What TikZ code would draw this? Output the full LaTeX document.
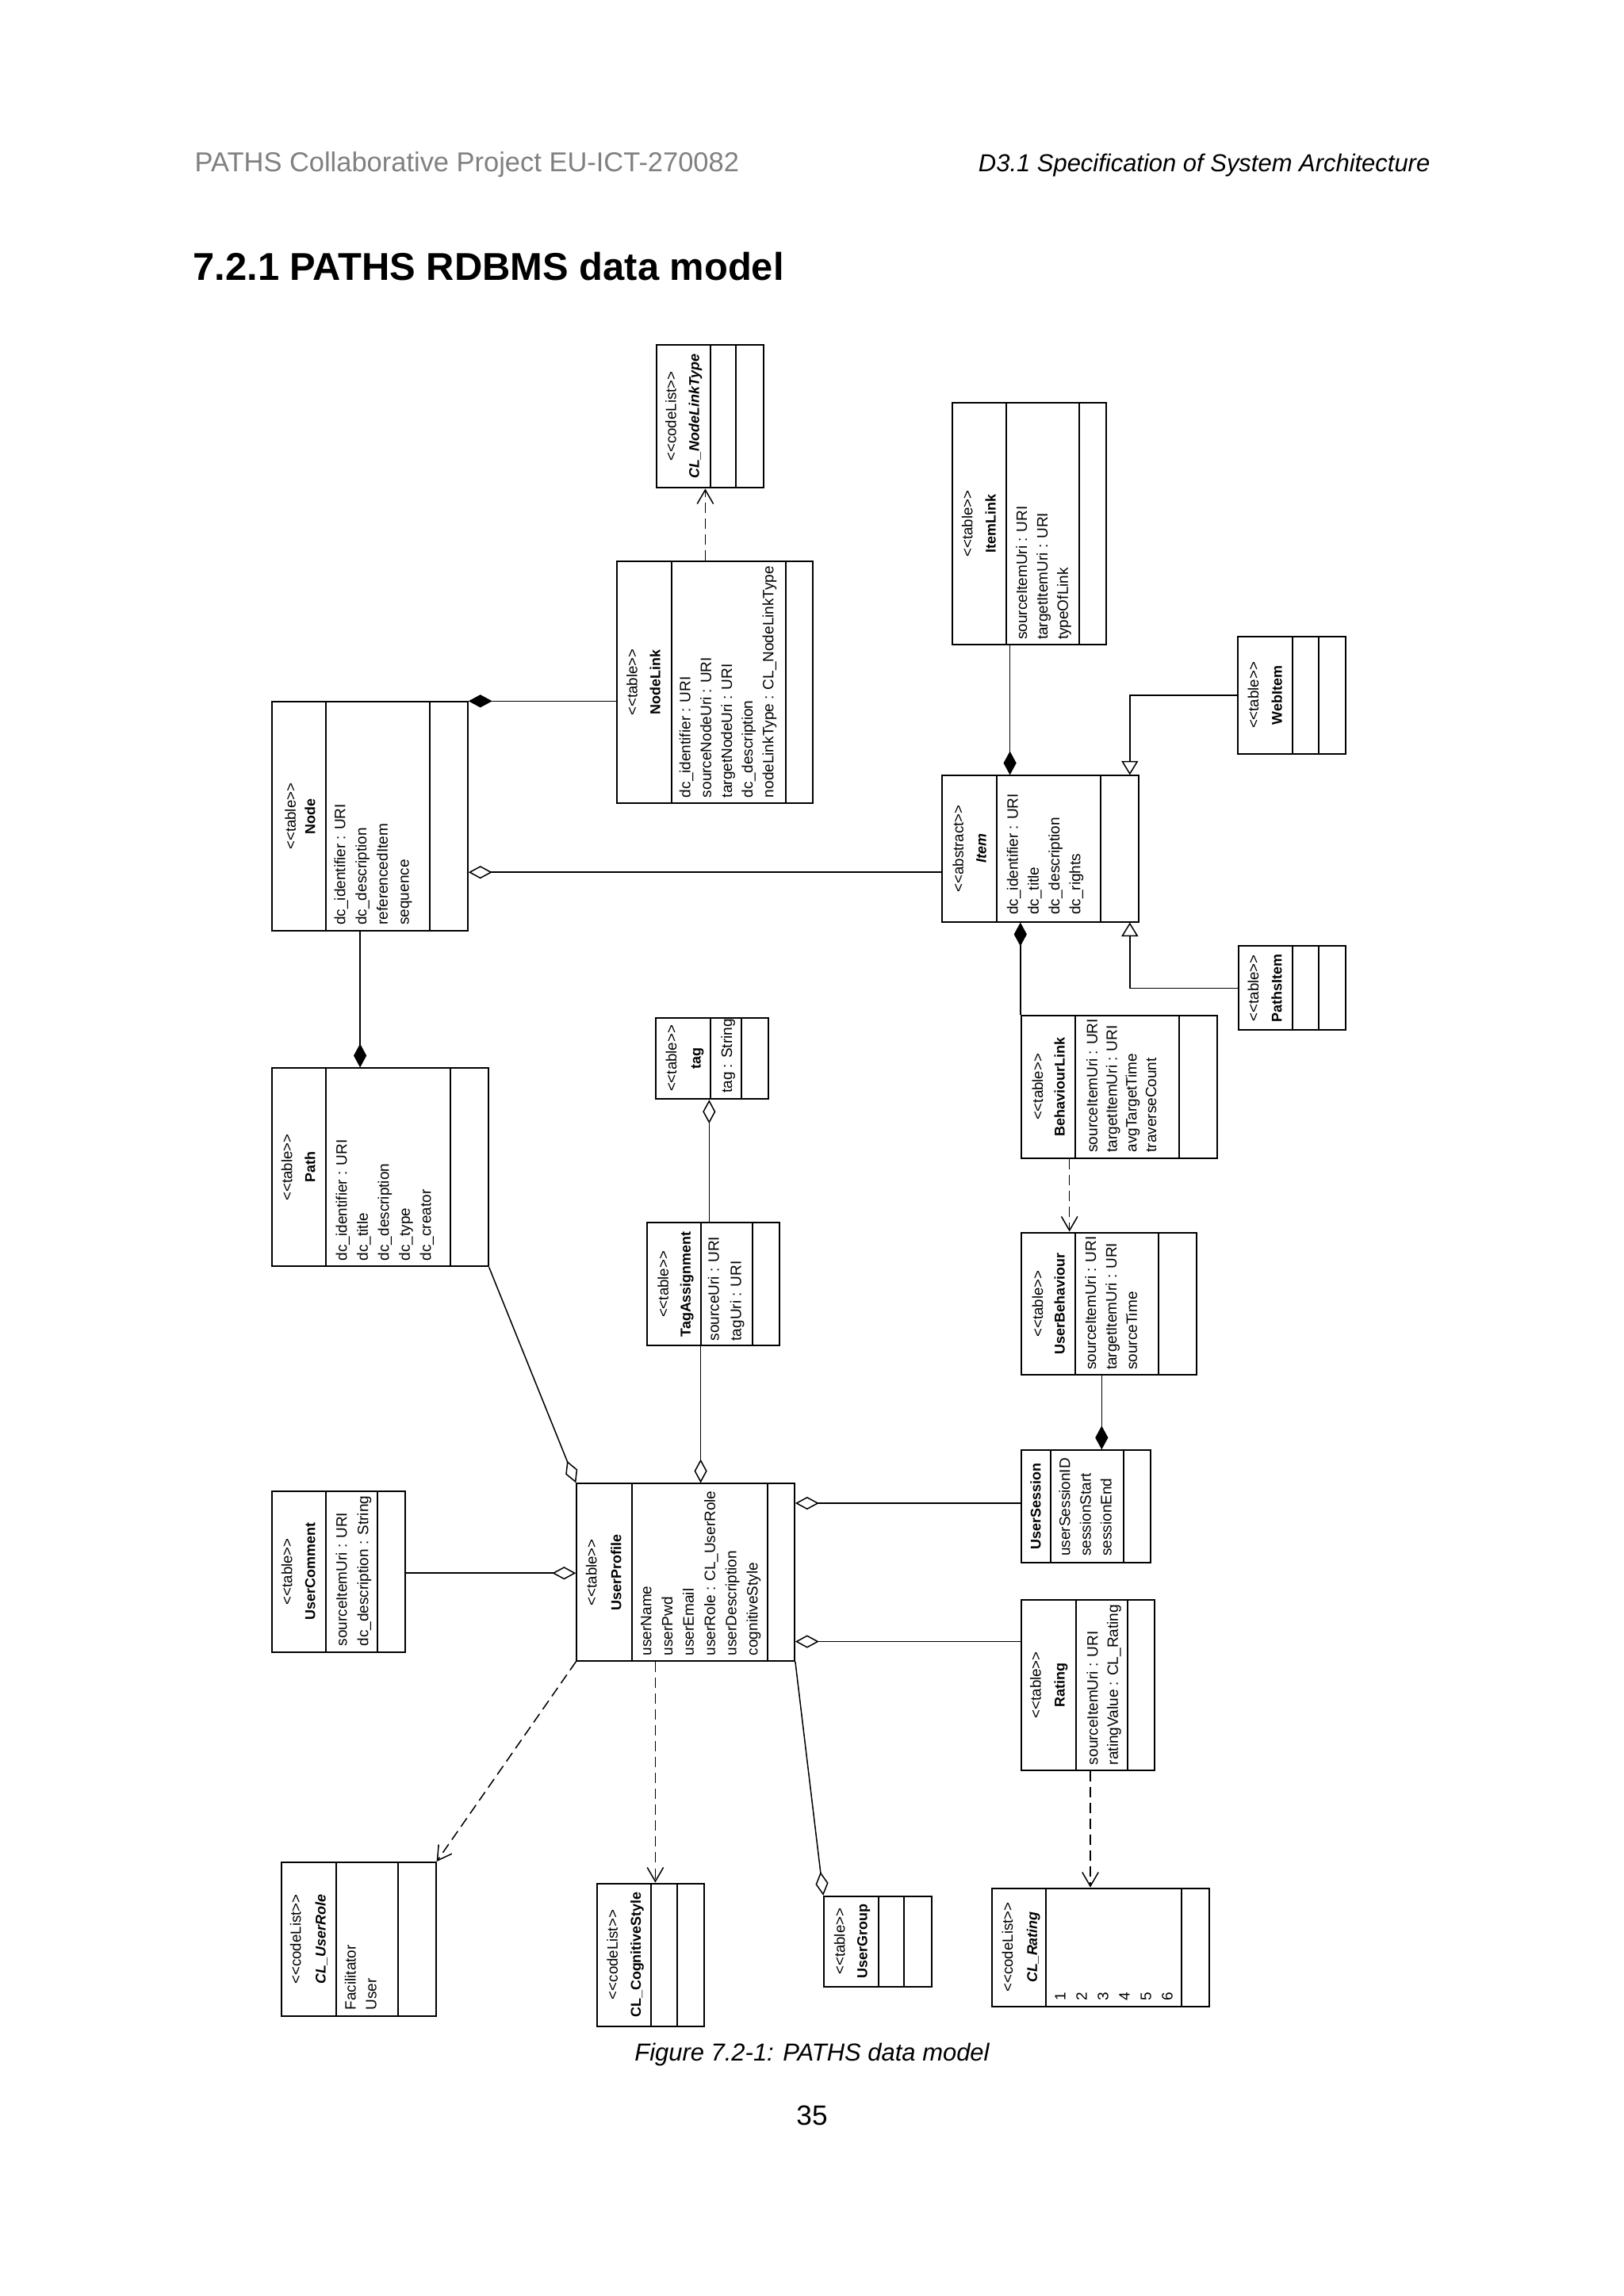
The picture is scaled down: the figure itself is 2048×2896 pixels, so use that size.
\documentclass[tikz,border=0pt]{standalone}
\usepackage{fontspec}
\setmainfont{Liberation Sans}
\newfontfamily\dg{Liberation Sans}
\usetikzlibrary{arrows.meta,fit}
\definecolor{hdrgray}{RGB}{128,128,128}
\newcommand\ster[1]{<\kern0pt<#1>\kern0pt>}
\newcommand\umlbox[7]{%
  \node[umlbox, fit={(#2,#3) (#4,#5)}] (#1) {};
  \draw[boxline] (#6,#3) -- (#6,#5) (#7,#3) -- (#7,#5);}
\tikzset{
  umlbox/.style={draw, line width=0.57pt, inner sep=0pt},
  boxline/.style={line width=0.57pt},
  stt/.style={rotate=90, anchor=mid, inner sep=0pt, font=\dg\fontsize{5.3}{6}\selectfont},
  nmt/.style={rotate=90, anchor=mid, inner sep=0pt, font=\dg\bfseries\fontsize{5.1}{6}\selectfont},
  nmi/.style={nmt, font=\dg\bfseries\itshape\fontsize{5.1}{6}\selectfont},
  att/.style={rotate=90, anchor=mid west, inner sep=0pt, font=\dg\fontsize{5.4}{6}\selectfont},
  conn/.style={line width=0.43pt},
  comp/.style={conn, -{Diamond[length=8.5pt,width=4.6pt]}},
  aggr/.style={conn, -{Diamond[open,length=8.5pt,width=4.6pt]}},
  gen/.style={conn, -{Triangle[open,length=5pt,width=6pt]}},
  dep/.style={conn, dash pattern=on 3.7pt off 2pt, -{Straight Barb[length=5pt,width=5.8pt]}},
  pagetxt/.style={inner sep=0pt},
}
\begin{document}
\begin{tikzpicture}[x=0.01cm, y=-0.01cm]
\fill[white] (0,0) rectangle (2048,2896);
\useasboundingbox (0,0) rectangle (2048,2896);

% page texts
\node[pagetxt, anchor=base west, text=hdrgray, font=\fontsize{9.8}{12}\selectfont] (hdrL) at (245,216.7) {PATHS Collaborative Project EU-ICT-270082};
\node[pagetxt, anchor=base east, font=\itshape\fontsize{8.8}{11}\selectfont] (hdrR) at (1804,216.7) {D3.1 Specification of System Architecture};
\node[pagetxt, anchor=base west, font=\bfseries\fontsize{13.9}{16}\selectfont] (heading) at (243,353.3) {7.2.1 PATHS RDBMS data model};
\node[pagetxt, anchor=base, font=\itshape\fontsize{8.8}{11}\selectfont] (caption) at (1024,2599.5) {Figure 7.2-1: PATHS data model};
\node[pagetxt, anchor=base, font=\fontsize{10}{12}\selectfont] (pagenum) at (1024,2680) {35};

% CL_NodeLinkType
\umlbox{nlt}{828}{435}{963}{615.4}{896}{928.2}
\node[stt] (nlt-s) at (843.4,525) {\ster{codeList}};
\node[nmi] (nlt-n) at (872.4,525) {CL\_NodeLinkType};

% NodeLink
\umlbox{nl}{777.8}{708.3}{1025}{1012.9}{846.5}{990.7}
\node[stt] (nl-s) at (794.3,860.6) {\ster{table}};
\node[nmt] (nl-n) at (823.3,860.6) {NodeLink};
\node[att] (nl-a1) at (861.3,1006.7) {dc\_identifier : URI};
\node[att] (nl-a2) at (887.5,1006.7) {sourceNodeUri : URI};
\node[att] (nl-a3) at (913.7,1006.7) {targetNodeUri : URI};
\node[att] (nl-a4) at (939.9,1006.7) {dc\_description};
\node[att] (nl-a5) at (966.1,1006.7) {nodeLinkType : CL\_NodeLinkType};

% Node
\umlbox{nd}{342.5}{885.3}{589.8}{1174.1}{411.25}{541.6}
\node[stt] (nd-s) at (363.5,1029.7) {\ster{table}};
\node[nmt] (nd-n) at (388,1029.7) {Node};
\node[att] (nd-a1) at (426,1167.4) {dc\_identifier : URI};
\node[att] (nd-a2) at (452.8,1167.4) {dc\_description};
\node[att] (nd-a3) at (479.6,1167.4) {referencedItem};
\node[att] (nd-a4) at (506.3,1167.4) {sequence};

% ItemLink
\umlbox{il}{1200.9}{507.7}{1395.3}{813.4}{1269.4}{1360.9}
\node[stt] (il-s) at (1217,660.5) {\ster{table}};
\node[nmt] (il-n) at (1246.4,660.5) {ItemLink};
\node[att] (il-a1) at (1285.9,807.6) {sourceItemUri : URI};
\node[att] (il-a2) at (1311.7,807.6) {targetItemUri : URI};
\node[att] (il-a3) at (1337.5,807.6) {typeOfLink};

% Item
\umlbox{item}{1188.3}{978.4}{1435.5}{1162.5}{1257.2}{1387.7}
\node[stt] (item-s) at (1205.5,1070.4) {\ster{abstract}};
\node[nmi] (item-n) at (1234.2,1070.4) {Item};
\node[att] (item-a1) at (1274.4,1154.4) {dc\_identifier : URI};
\node[att] (item-a2) at (1300.6,1154.4) {dc\_title};
\node[att] (item-a3) at (1326.8,1154.4) {dc\_description};
\node[att] (item-a4) at (1353,1154.4) {dc\_rights};

% WebItem
\umlbox{web}{1561.4}{802.9}{1697.3}{951.1}{1630.3}{1662.8}
\node[stt] (web-s) at (1577.9,877) {\ster{table}};
\node[nmt] (web-n) at (1607.3,877) {WebItem};

% PathsItem
\umlbox{pit}{1561.5}{1193.2}{1697.2}{1299.3}{1630.4}{1662.8}
\node[stt] (pit-s) at (1577.7,1246.3) {\ster{table}};
\node[nmt] (pit-n) at (1607,1246.3) {PathsItem};

% BehaviourLink
\umlbox{bl}{1287.8}{1280.9}{1535.4}{1460.8}{1356.3}{1486.5}
\node[stt] (bl-s) at (1305.7,1370.9) {\ster{table}};
\node[nmt] (bl-n) at (1333.2,1370.9) {BehaviourLink};
\node[att] (bl-a1) at (1374.6,1454.2) {sourceItemUri : URI};
\node[att] (bl-a2) at (1399.3,1454.2) {targetItemUri : URI};
\node[att] (bl-a3) at (1424,1454.2) {avgTargetTime};
\node[att] (bl-a4) at (1448.7,1454.2) {traverseCount};

% UserBehaviour
\umlbox{ub}{1287.8}{1554.5}{1508.9}{1734.4}{1356.3}{1460.6}
\node[stt] (ub-s) at (1305.7,1644.5) {\ster{table}};
\node[nmt] (ub-n) at (1333.2,1644.5) {UserBehaviour};
\node[att] (ub-a1) at (1372.8,1728.6) {sourceItemUri : URI};
\node[att] (ub-a2) at (1398.7,1728.6) {targetItemUri : URI};
\node[att] (ub-a3) at (1424.5,1728.6) {sourceTime};

% UserSession
\umlbox{us}{1287.7}{1829.3}{1451.3}{1971}{1325.3}{1416.7}
\node[nmt] (us-n) at (1303,1900) {UserSession};
\node[att] (us-a1) at (1340,1963.3) {userSessionID};
\node[att] (us-a2) at (1366.2,1963.3) {sessionStart};
\node[att] (us-a3) at (1392.4,1963.3) {sessionEnd};

% Rating
\umlbox{rat}{1287.7}{2017.7}{1456}{2232.7}{1356.7}{1421.7}
\node[stt] (rat-s) at (1303.3,2125.2) {\ster{table}};
\node[nmt] (rat-n) at (1333.3,2125.2) {Rating};
\node[att] (rat-a1) at (1375,2226.7) {sourceItemUri : URI};
\node[att] (rat-a2) at (1400.5,2226.7) {ratingValue : CL\_Rating};

% CL_Rating
\umlbox{clr}{1251}{2381.6}{1524.5}{2530.6}{1318.9}{1489.8}
\node[stt] (clr-s) at (1267.9,2456) {\ster{codeList}};
\node[nmi] (clr-n) at (1298.5,2456) {CL\_Rating};
\node[att] (clr-a1) at (1334.2,2524.5) {1};
\node[att] (clr-a2) at (1361.2,2524.5) {2};
\node[att] (clr-a3) at (1388.2,2524.5) {3};
\node[att] (clr-a4) at (1415.2,2524.5) {4};
\node[att] (clr-a5) at (1442.2,2524.5) {5};
\node[att] (clr-a6) at (1469.2,2524.5) {6};

% UserGroup
\umlbox{ug}{1039.3}{2391.8}{1174.5}{2505.6}{1108.2}{1140.3}
\node[stt] (ug-s) at (1056,2448.7) {\ster{table}};
\node[nmt] (ug-n) at (1084.2,2448.7) {UserGroup};

% CL_CognitiveStyle
\umlbox{ccs}{752.8}{2375.5}{888}{2555.6}{821.1}{853.7}
\node[stt] (ccs-s) at (769.7,2465.5) {\ster{codeList}};
\node[nmt] (ccs-n) at (798.8,2465.5) {CL\_CognitiveStyle};

% CL_UserRole
\umlbox{cur}{354.6}{2349}{549.6}{2542.9}{423.75}{501.9}
\node[stt] (cur-s) at (370.2,2446) {\ster{codeList}};
\node[nmi] (cur-n) at (401.4,2446) {CL\_UserRole};
\node[att] (cur-a1) at (439.4,2536.2) {Facilitator};
\node[att] (cur-a2) at (465.3,2536.2) {User};

% UserProfile
\umlbox{up}{727.3}{1871.4}{1001.9}{2094.9}{796.5}{968.4}
\node[stt] (up-s) at (743,1983.2) {\ster{table}};
\node[nmt] (up-n) at (774.2,1983.2) {UserProfile};
\node[att] (up-a1) at (812.1,2088.8) {userName};
\node[att] (up-a2) at (838.9,2088.8) {userPwd};
\node[att] (up-a3) at (865.7,2088.8) {userEmail};
\node[att] (up-a4) at (892.5,2088.8) {userRole : CL\_UserRole};
\node[att] (up-a5) at (919.3,2088.8) {userDescription};
\node[att] (up-a6) at (946.1,2088.8) {cognitiveStyle};

% UserComment
\umlbox{uc}{342.5}{1880.6}{510.8}{2083.7}{411.25}{476.4}
\node[stt] (uc-s) at (359,1982.2) {\ster{table}};
\node[nmt] (uc-n) at (388,1982.2) {UserComment};
\node[att] (uc-a1) at (428.2,2077) {sourceItemUri : URI};
\node[att] (uc-a2) at (455,2077) {dc\_description : String};

% tag
\umlbox{tag}{827.4}{1283.5}{968.8}{1386.2}{896.3}{934.6}
\node[stt] (tag-s) at (843.8,1334.9) {\ster{table}};
\node[nmt] (tag-n) at (874.4,1334.9) {tag};
\node[att] (tag-a1) at (913.7,1379.5) {tag : String};

% TagAssignment
\umlbox{ta}{815.7}{1542.4}{983}{1697.3}{883.6}{948.9}
\node[stt] (ta-s) at (833.6,1619.9) {\ster{table}};
\node[nmt] (ta-n) at (861.6,1619.9) {TagAssignment};
\node[att] (ta-a1) at (897.3,1692) {sourceUri : URI};
\node[att] (ta-a2) at (925.4,1692) {tagUri : URI};

% Path
\umlbox{path}{342.5}{1347.4}{615.7}{1597.4}{411.25}{568}
\node[stt] (path-s) at (359,1472.4) {\ster{table}};
\node[nmt] (path-n) at (388,1472.4) {Path};
\node[att] (path-a1) at (428.2,1590.8) {dc\_identifier : URI};
\node[att] (path-a2) at (454.7,1590.8) {dc\_title};
\node[att] (path-a3) at (481.2,1590.8) {dc\_description};
\node[att] (path-a4) at (507.7,1590.8) {dc\_type};
\node[att] (path-a5) at (534.2,1590.8) {dc\_creator};

% connectors
\draw[comp] (nl.west |- nd.north) -- (nd.north east);
\draw[dep] (nl.north -| 889.4,0) -- (nlt.south -| 889.4,0);
\draw[aggr] (item.west |- 0,1100.2) -- (nd.east |- 0,1100.2);
\draw[comp] (nd.south -| 454.1,0) -- (path.north -| 454.1,0);
\draw[comp] (il.south -| 1273.6,0) -- (item.north -| 1273.6,0);
\draw[gen] (web.west) -- (web.west -| 1424.8,0) -- (item.north -| 1424.8,0);
\draw[gen] (pit.west) -- (pit.west -| 1424.8,0) -- (item.south -| 1424.8,0);
\draw[comp] (bl.north west) -- (item.south -| bl.west);
\draw[dep] (bl.south -| 1348.7,0) -- (ub.north -| 1348.7,0);
\draw[comp] (ub.south -| 1389.3,0) -- (us.north -| 1389.3,0);
\draw[aggr] (us.west |- 0,1896) -- (up.east |- 0,1896);
\draw[aggr] (rat.west |- 0,2070.5) -- (up.east |- 0,2070.5);
\draw[dep] (rat.south -| 1375,0) -- (clr.north -| 1375,0);
\draw[aggr] (up.south east) -- (ug.north west);
\draw[dep] (up.south -| 826.4,0) -- (ccs.north -| 826.4,0);
\draw[dep] (up.south west) -- (cur.north east);
\draw[aggr] (uc.east |- 0,1984.2) -- (up.west |- 0,1984.2);
\draw[aggr] (path.south east) -- (up.north west);
\draw[aggr] (ta.north -| 894.3,0) -- (tag.south -| 894.3,0);
\draw[aggr] (ta.south -| 883.6,0) -- (up.north -| 883.6,0);
\end{tikzpicture}
\end{document}
